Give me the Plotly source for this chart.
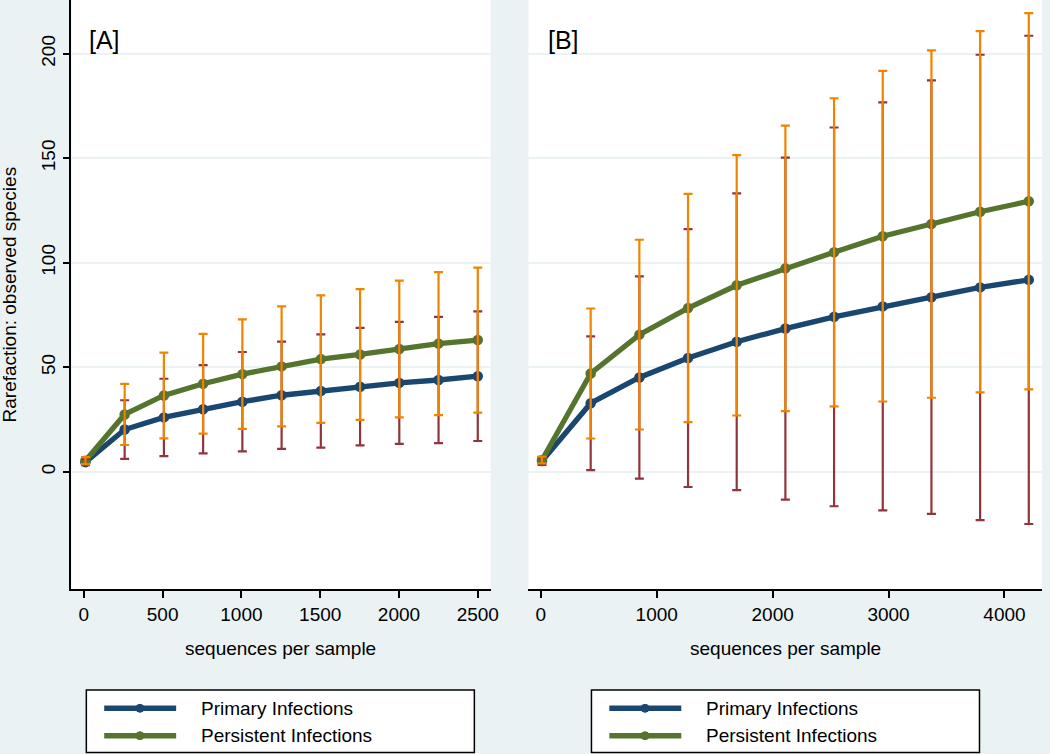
import plotly.graph_objects as go

# ---------------- data ----------------
x_a = [10, 259, 508, 757, 1006, 1255, 1504, 1753, 2002, 2251, 2500]
primary_a_mean = [4.6, 20.2, 26.0, 29.9, 33.5, 36.6, 38.6, 40.7, 42.5, 43.9, 45.7]
primary_a_sd = [1.5, 14.0, 18.5, 21.1, 23.8, 25.7, 27.1, 28.1, 29.2, 30.2, 31.0]
persist_a_mean = [5.3, 27.4, 36.5, 42.1, 46.7, 50.4, 53.9, 56.1, 58.7, 61.3, 63.0]
persist_a_sd = [1.7, 14.6, 20.5, 23.9, 26.2, 28.7, 30.5, 31.3, 32.7, 34.2, 34.7]

x_b = [10, 430, 850, 1270, 1690, 2110, 2530, 2950, 3370, 3790, 4210]
primary_b_mean = [5.1, 32.8, 45.1, 54.4, 62.2, 68.5, 74.1, 79.1, 83.5, 88.2, 91.8]
primary_b_sd = [1.8, 32.0, 48.4, 61.7, 71.0, 81.8, 90.6, 97.6, 103.7, 111.3, 116.8]
persist_b_mean = [5.6, 47.0, 65.6, 78.3, 89.2, 97.3, 105.0, 112.7, 118.5, 124.4, 129.4]
persist_b_sd = [1.6, 31.1, 45.4, 54.6, 62.3, 68.3, 73.7, 79.1, 83.1, 86.4, 90.0]

x_ticks_a = [0, 500, 1000, 1500, 2000, 2500]
x_ticks_b = [0, 1000, 2000, 3000, 4000]
y_ticks = [0, 50, 100, 150, 200]

series_names = ["Primary Infections", "Persistent Infections"]
panel_labels = ["[A]", "[B]"]
x_title = "sequences per sample"
y_title = "Rarefaction: observed species"

# ---------------- style ----------------
W, H = 1050, 754
NAVY = "#1A476F"
GREEN = "#55752F"
MAROON = "#90353B"
ORANGE = "#F08400"
BG = "#EAF2F3"
FONT = "Arial, Liberation Sans, sans-serif"


def px(xp):
    return xp / W


def py(yp):
    return 1 - yp / H


fig = go.Figure()


def add_panel(xs, pm, psd, qm, qsd, xa, ya):
    for m, col in [(pm, NAVY), (qm, GREEN)]:
        fig.add_trace(go.Scatter(
            x=xs, y=m, mode="lines+markers", xaxis=xa, yaxis=ya,
            line=dict(color=col, width=5.3),
            marker=dict(color=col, size=10.5),
            showlegend=False))
    # error bars (maroon = primary, orange = persistent)
    for m, sd, col in [(pm, psd, MAROON), (qm, qsd, ORANGE)]:
        fig.add_trace(go.Scatter(
            x=xs, y=m, mode="markers", xaxis=xa, yaxis=ya,
            marker=dict(size=1, color="rgba(0,0,0,0)"),
            error_y=dict(type="data", array=sd, visible=True, color=col,
                         thickness=2.2, width=4.5),
            showlegend=False, hoverinfo="skip"))


add_panel(x_a, primary_a_mean, primary_a_sd, persist_a_mean, persist_a_sd, "x", "y")
add_panel(x_b, primary_b_mean, primary_b_sd, persist_b_mean, persist_b_sd, "x2", "y2")

y_dom = [py(589), 1.0]
y_rng = [-56.1, 225.7]
tickfont = dict(family=FONT, size=19, color="black")

common_x = dict(showline=True, linecolor="black", linewidth=1.5, ticks="outside",
                ticklen=7, tickwidth=1.5, tickcolor="black", showgrid=False,
                zeroline=False, tickfont=tickfont)

fig.update_layout(
    width=W, height=H,
    margin=dict(l=0, r=0, t=0, b=0),
    paper_bgcolor=BG, plot_bgcolor="white",
    font=dict(family=FONT, color="black"),
    showlegend=False,
    xaxis=dict(domain=[px(72), px(494.3)], range=[-78.7, 2581], tickvals=x_ticks_a,
               anchor="y", **common_x),
    yaxis=dict(domain=y_dom, range=y_rng, tickvals=y_ticks, tickangle=-90,
               showline=True, linecolor="black", linewidth=1.5, ticks="outside",
               ticklen=7, tickwidth=1.5, tickcolor="black", showgrid=True,
               gridcolor=BG, gridwidth=2, zeroline=False, tickfont=tickfont,
               anchor="x"),
    xaxis2=dict(domain=[px(532.5), 1.0], range=[-107, 4324], tickvals=x_ticks_b,
                anchor="y2", **common_x),
    yaxis2=dict(domain=y_dom, range=y_rng, tickvals=y_ticks, showticklabels=False,
                showline=False, ticks="", showgrid=True, gridcolor=BG, gridwidth=2,
                zeroline=False, anchor="x2"),
)

ann = []
# axis titles
ann.append(dict(text=y_title, x=px(10), y=py(294.5), xref="paper", yref="paper",
                textangle=-90, showarrow=False, xanchor="center", yanchor="middle",
                font=dict(size=19, family=FONT)))
for cx in [(72 + 494.3) / 2, (532.5 + 1050) / 2]:
    ann.append(dict(text=x_title, x=px(cx), y=py(648), xref="paper", yref="paper",
                    showarrow=False, xanchor="center", yanchor="middle",
                    font=dict(size=19, family=FONT)))
# panel labels
for lx, lab in zip([88, 550], panel_labels):
    ann.append(dict(text=lab, x=px(lx), y=py(40), xref="paper", yref="paper",
                    showarrow=False, xanchor="left", yanchor="middle",
                    font=dict(size=25, family=FONT)))

# legends (one per panel)
shapes = []
for bx in [87, 596]:
    shapes.append(dict(type="rect", xref="paper", yref="paper",
                       x0=px(bx), x1=px(bx + 391), y0=py(690), y1=py(752.5),
                       line=dict(color="black", width=1.5), fillcolor="white", layer="above"))
    for ry, col, name in [(708.3, NAVY, series_names[0]), (735.7, GREEN, series_names[1])]:
        shapes.append(dict(type="line", xref="paper", yref="paper",
                           x0=px(bx + 18), x1=px(bx + 90.5), y0=py(ry), y1=py(ry),
                           line=dict(color=col, width=5.5), layer="above"))
        mcx = bx + 54
        shapes.append(dict(type="circle", xref="paper", yref="paper",
                           x0=px(mcx - 4), x1=px(mcx + 4), y0=py(ry + 4), y1=py(ry - 4),
                           line=dict(color=col, width=1), fillcolor=col, layer="above"))
        ann.append(dict(text=name, x=px(bx + 113.5), y=py(ry), xref="paper", yref="paper",
                        showarrow=False, xanchor="left", yanchor="middle",
                        font=dict(size=19, family=FONT)))

fig.update_layout(annotations=ann, shapes=shapes)
fig.write_html(
    "out.html",
    config={"displayModeBar": False},
    post_script="document.body.style.margin='0';document.body.style.overflow='hidden';",
)
